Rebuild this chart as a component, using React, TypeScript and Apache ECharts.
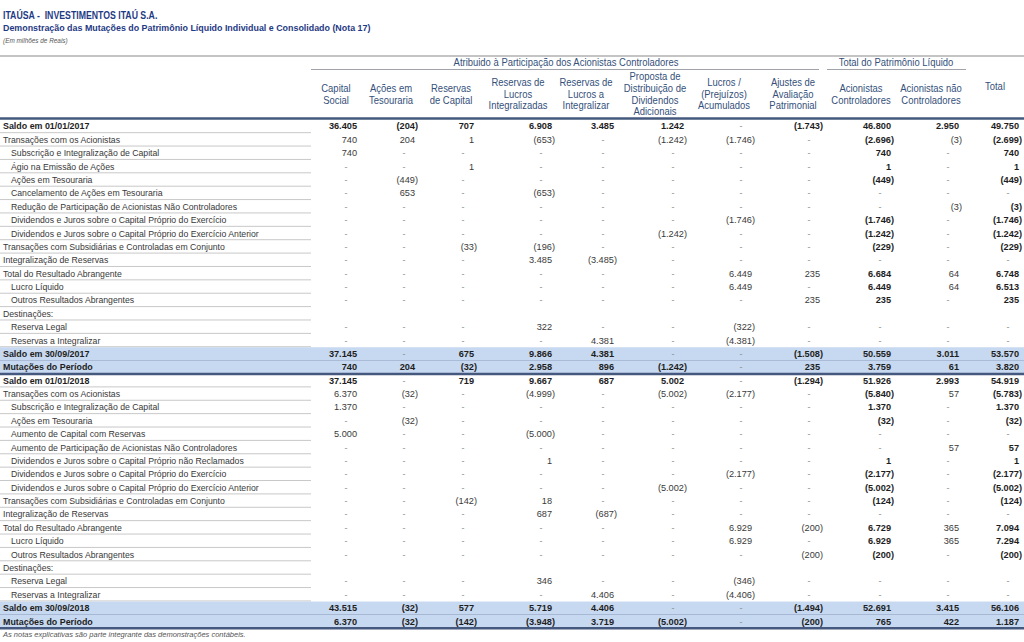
import React, { useEffect, useRef } from "react";
import * as echarts from "echarts";

const N = null;

const rowLabels = [
  "Saldo em 01/01/2017",
  "Transações com os Acionistas",
  "Subscrição e Integralização de Capital",
  "Ágio na Emissão de Ações",
  "Ações em Tesouraria",
  "Cancelamento de Ações em Tesouraria",
  "Redução de Participação de Acionistas Não Controladores",
  "Dividendos e Juros sobre o Capital Próprio do Exercício",
  "Dividendos e Juros sobre o Capital Próprio do Exercício Anterior",
  "Transações com Subsidiárias e Controladas em Conjunto",
  "Integralização de Reservas",
  "Total do Resultado Abrangente",
  "Lucro Líquido",
  "Outros Resultados Abrangentes",
  "Destinações:",
  "Reserva Legal",
  "Reservas a Integralizar",
  "Saldo em 30/09/2017",
  "Mutações do Período",
  "Saldo em 01/01/2018",
  "Transações com os Acionistas",
  "Subscrição e Integralização de Capital",
  "Ações em Tesouraria",
  "Aumento de Capital com Reservas",
  "Aumento de Participação de Acionistas Não Controladores",
  "Dividendos e Juros sobre o Capital Próprio não Reclamados",
  "Dividendos e Juros sobre o Capital Próprio do Exercício",
  "Dividendos e Juros sobre o Capital Próprio do Exercício Anterior",
  "Transações com Subsidiárias e Controladas em Conjunto",
  "Integralização de Reservas",
  "Total do Resultado Abrangente",
  "Lucro Líquido",
  "Outros Resultados Abrangentes",
  "Destinações:",
  "Reserva Legal",
  "Reservas a Integralizar",
  "Saldo em 30/09/2018",
  "Mutações do Período",
];

const rowIndent = [
  0, 0, 1, 1, 1, 1, 1, 1, 1, 0, 0, 0, 1, 1, 0, 1, 1, 0, 0,
  0, 0, 1, 1, 1, 1, 1, 1, 1, 0, 0, 0, 1, 1, 0, 1, 1, 0, 0,
];

// saldo = opening balance, item = movement, heading = no values, closing = closing balance, change = period change
const rowKind = [
  "saldo", "item", "item", "item", "item", "item", "item", "item", "item", "item", "item", "item", "item", "item", "heading", "item", "item", "closing", "change",
  "saldo", "item", "item", "item", "item", "item", "item", "item", "item", "item", "item", "item", "item", "item", "heading", "item", "item", "closing", "change",
];

const columnHeaders = [
  "Capital\nSocial",
  "Ações em\nTesouraria",
  "Reservas\nde Capital",
  "Reservas de\nLucros\nIntegralizadas",
  "Reservas de\nLucros a\nIntegralizar",
  "Proposta de\nDistribuição de\nDividendos\nAdicionais",
  "Lucros /\n(Prejuízos)\nAcumulados",
  "Ajustes de\nAvaliação\nPatrimonial",
  "Acionistas\nControladores",
  "Acionistas não\nControladores",
  "Total",
];

const groupHeaders = [
  "Atribuido à Participação dos Acionistas Controladores",
  "Total do Patrimônio Líquido",
];

const capitalSocial = [
  36405, 740, 740, N, N, N, N, N, N, N, N, N, N, N, N, N, N, 37145, 740,
  37145, 6370, 1370, N, 5000, N, N, N, N, N, N, N, N, N, N, N, N, 43515, 6370,
];
const acoesTesouraria = [
  -204, 204, N, N, -449, 653, N, N, N, N, N, N, N, N, N, N, N, N, 204,
  N, -32, N, -32, N, N, N, N, N, N, N, N, N, N, N, N, N, -32, -32,
];
const reservasCapital = [
  707, 1, N, 1, N, N, N, N, N, -33, N, N, N, N, N, N, N, 675, -32,
  719, N, N, N, N, N, N, N, N, -142, N, N, N, N, N, N, N, 577, -142,
];
const reservasLucrosIntegralizadas = [
  6908, -653, N, N, N, -653, N, N, N, -196, 3485, N, N, N, N, 322, N, 9866, 2958,
  9667, -4999, N, N, -5000, N, 1, N, N, 18, 687, N, N, N, N, 346, N, 5719, -3948,
];
const reservasLucrosAIntegralizar = [
  3485, N, N, N, N, N, N, N, N, N, -3485, N, N, N, N, N, 4381, 4381, 896,
  687, N, N, N, N, N, N, N, N, N, -687, N, N, N, N, N, 4406, 4406, 3719,
];
const propostaDividendos = [
  1242, -1242, N, N, N, N, N, N, -1242, N, N, N, N, N, N, N, N, N, -1242,
  5002, -5002, N, N, N, N, N, N, -5002, N, N, N, N, N, N, N, N, N, -5002,
];
const lucrosAcumulados = [
  N, -1746, N, N, N, N, N, -1746, N, N, N, 6449, 6449, N, N, -322, -4381, N, N,
  N, -2177, N, N, N, N, N, -2177, N, N, N, 6929, 6929, N, N, -346, -4406, N, N,
];
const ajustesAvaliacao = [
  -1743, N, N, N, N, N, N, N, N, N, N, 235, N, 235, N, N, N, -1508, 235,
  -1294, N, N, N, N, N, N, N, N, N, N, -200, N, -200, N, N, N, -1494, -200,
];
const acionistasControladores = [
  46800, -2696, 740, 1, -449, N, N, -1746, -1242, -229, N, 6684, 6449, 235, N, N, N, 50559, 3759,
  51926, -5840, 1370, -32, N, N, 1, -2177, -5002, -124, N, 6729, 6929, -200, N, N, N, 52691, 765,
];
const acionistasNaoControladores = [
  2950, -3, N, N, N, N, -3, N, N, N, N, 64, 64, N, N, N, N, 3011, 61,
  2993, 57, N, N, N, 57, N, N, N, N, N, 365, 365, N, N, N, N, 3415, 422,
];
const totalPL = [
  49750, -2699, 740, 1, -449, N, -3, -1746, -1242, -229, N, 6748, 6513, 235, N, N, N, 53570, 3820,
  54919, -5783, 1370, -32, N, 57, 1, -2177, -5002, -124, N, 7094, 7294, -200, N, N, N, 56106, 1187,
];

// ---- layout (positions / styles) ----
const W = 1024;
const colRight = [357, 415, 474, 552, 614, 684, 752, 820, 891, 959, 1019];
const colCenter = [336, 391, 451, 518, 586, 655, 724, 793, 861, 931, 995];
const boldCols = [8, 10];
const labelColEnd = 311;

const BODY_FONT = "'Liberation Sans', Arial, sans-serif";
const HEAD_FONT = "'Liberation Sans', Arial, sans-serif";
const HEAD_SCALE = 0.86;
const HEAD_COLOR = "#34507a";
const TITLE_COLOR = "#1f3a84";

function fmt(v: number) {
  const s = Math.abs(v)
    .toString()
    .replace(/\B(?=(\d{3})+(?!\d))/g, ".");
  return v < 0 ? `(${s})` : s;
}

export default function App() {
  const ref = useRef<HTMLDivElement>(null);

  useEffect(() => {
    const chart = echarts.init(ref.current!, null, { renderer: "svg" });
    const columns = [
      capitalSocial,
      acoesTesouraria,
      reservasCapital,
      reservasLucrosIntegralizadas,
      reservasLucrosAIntegralizar,
      propostaDividendos,
      lucrosAcumulados,
      ajustesAvaliacao,
      acionistasControladores,
      acionistasNaoControladores,
      totalPL,
    ];

    const renderItem = (params: any, api: any) => {
      const i = params.dataIndex;
      const cy = api.coord([0, i])[1];
      const h = api.size([0, 1])[1];
      const top = cy - h / 2;
      const bot = cy + h / 2;
      const kind = rowKind[i];
      const band = kind === "closing" || kind === "change";
      const boldRow = kind !== "item" && kind !== "heading";
      const children: any[] = [];
      if (band) {
        children.push({
          type: "rect",
          shape: { x: 0, y: top, width: W, height: h },
          style: { fill: "#c7d9f0" },
        });
      }
      if (kind === "closing") {
        children.push({
          type: "line",
          shape: { x1: 0, y1: bot, x2: W, y2: bot },
          style: { stroke: "#8094b8", lineWidth: 1 },
        });
      } else if (kind === "change") {
        children.push({
          type: "line",
          shape: { x1: 0, y1: bot, x2: W, y2: bot },
          style: { stroke: "#44597d", lineWidth: 2.5 },
        });
      } else {
        children.push({
          type: "line",
          shape: { x1: 0, y1: bot - 0.5, x2: labelColEnd, y2: bot - 0.5 },
          style: { stroke: "#c8c8c8", lineWidth: 1 },
        });
      }
      children.push({
        type: "text",
        style: {
          text: rowLabels[i],
          x: rowIndent[i] ? 11 : 3,
          y: cy,
          align: "left",
          verticalAlign: "middle",
          fontFamily: BODY_FONT,
          fontSize: boldRow ? 8.9 : 8.7,
          fontWeight: boldRow ? "bold" : "normal",
          fill: boldRow ? "#1e1e1e" : "#383838",
        },
      });
      if (kind !== "heading") {
        columns.forEach((col, c) => {
          const v = col[i];
          const R = api.coord([colRight[c], i])[0];
          if (v === null || v === undefined) {
            children.push({
              type: "text",
              style: {
                text: "-",
                x: R - 11,
                y: cy,
                align: "center",
                verticalAlign: "middle",
                fontFamily: BODY_FONT,
                fontSize: 9,
                fill: "#8c8c8c",
              },
            });
          } else {
            const bold = boldRow || boldCols.includes(c);
            children.push({
              type: "text",
              style: {
                text: fmt(v),
                x: v < 0 ? R + 3 : R,
                y: cy,
                align: "right",
                verticalAlign: "middle",
                fontFamily: BODY_FONT,
                fontSize: 9.2,
                fontWeight: bold ? "bold" : "normal",
                fill: bold ? "#1e1e1e" : "#3a3a3a",
              },
            });
          }
        });
      }
      return { type: "group", children };
    };

    const headText = (text: string, x: number, y: number) => ({
      type: "text",
      x,
      y,
      scaleX: HEAD_SCALE,
      style: {
        text,
        fontFamily: HEAD_FONT,
        fontSize: 11,
        lineHeight: 11.6,
        fill: HEAD_COLOR,
        align: "center",
        verticalAlign: "middle",
      },
    });

    const graphic: any[] = [
      {
        type: "text",
        x: 3,
        y: 15,
        scaleX: 0.84,
        style: {
          text: "ITAÚSA -  INVESTIMENTOS ITAÚ S.A.",
          fontFamily: BODY_FONT,
          fontSize: 10.4,
          fontWeight: "bold",
          fill: TITLE_COLOR,
          verticalAlign: "middle",
        },
      },
      {
        type: "text",
        x: 3,
        y: 28,
        style: {
          text: "Demonstração das Mutações do Patrimônio Líquido Individual e Consolidado (Nota 17)",
          fontFamily: BODY_FONT,
          fontSize: 8.9,
          fontWeight: "bold",
          fill: TITLE_COLOR,
          verticalAlign: "middle",
        },
      },
      {
        type: "text",
        x: 3,
        y: 40,
        style: {
          text: "(Em milhões de Reais)",
          fontFamily: BODY_FONT,
          fontSize: 6.4,
          fontStyle: "italic",
          fill: "#555",
          verticalAlign: "middle",
        },
      },
      {
        type: "line",
        shape: { x1: 0, y1: 56, x2: W, y2: 56 },
        style: { stroke: "#c4c4c4", lineWidth: 2 },
      },
      headText(groupHeaders[0], 566, 62),
      headText(groupHeaders[1], 896, 62),
      {
        type: "line",
        shape: { x1: 311, y1: 69.5, x2: 819, y2: 69.5 },
        style: { stroke: "#a0a4aa", lineWidth: 1 },
      },
      {
        type: "line",
        shape: { x1: 827, y1: 69.5, x2: 966, y2: 69.5 },
        style: { stroke: "#a0a4aa", lineWidth: 1 },
      },
      ...columnHeaders.map((t, c) => headText(t, colCenter[c], c === 10 ? 86 : 94)),
      {
        type: "line",
        shape: { x1: 0, y1: 118.5, x2: W, y2: 118.5 },
        style: { stroke: "#44597d", lineWidth: 2.5 },
      },
      {
        type: "text",
        x: 3,
        y: 634,
        style: {
          text: "As notas explicativas são parte integrante das demonstrações contábeis.",
          fontFamily: BODY_FONT,
          fontSize: 7.5,
          fontStyle: "italic",
          fill: "#555",
          verticalAlign: "middle",
        },
      },
    ];

    chart.setOption({
      animation: false,
      grid: { left: 0, right: 0, top: 119.8, height: 508.4 },
      xAxis: { type: "value", min: 0, max: W, show: false },
      yAxis: {
        type: "category",
        data: rowLabels.map((_, i) => String(i)),
        inverse: true,
        show: false,
      },
      series: [
        {
          type: "custom",
          clip: false,
          data: rowLabels.map((_, i) => [0, i]),
          encode: { x: 0, y: 1 },
          renderItem,
        },
      ],
      graphic,
    });
    return () => chart.dispose();
  }, []);

  return (
    <div
      ref={ref}
      style={{ position: "absolute", left: 0, top: 0, width: 1024, height: 642, background: "#fff" }}
    />
  );
}
